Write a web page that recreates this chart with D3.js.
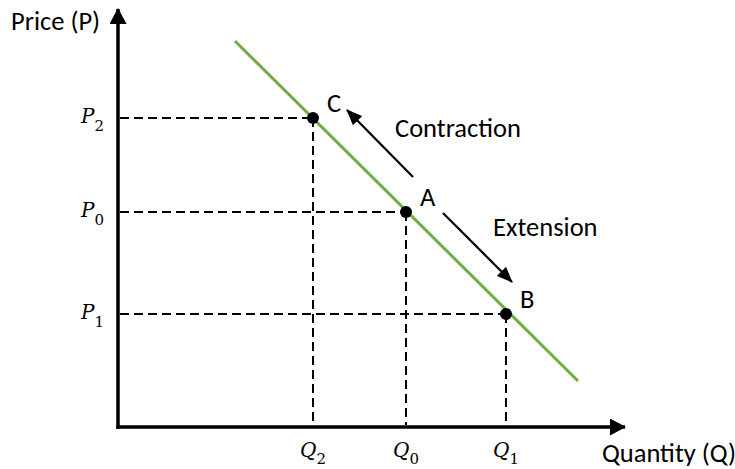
<!DOCTYPE html>
<html>
<head>
<meta charset="utf-8">
<script src="https://cdn.jsdelivr.net/npm/d3@7"></script>
<style>
  body { margin: 0; background: #fff; }
  text { font-family: Carlito, Lato, "Open Sans", sans-serif; fill: #000; }
  .math { font-family: "DejaVu Serif", serif; }
</style>
</head>
<body>
<script>
// Points on the demand curve
const pointNames = ["C", "A", "B"];
const quantities = [3.9, 5.76, 7.76];
const prices = [6.18, 4.3, 2.26];
const subscripts = ["2", "0", "1"];

// Demand curve end points
const demandQ = [2.34, 9.2];
const demandP = [7.72, 0.92];

// Movement arrows (from -> to) and their labels
const arrowNames = ["Contraction", "Extension"];
const arrowFromQ = [5.9, 6.5];
const arrowFromP = [5.0, 4.28];
const arrowToQ = [4.58, 7.88];
const arrowToP = [6.34, 2.9];
const arrowLabelQ = [5.54, 7.5];
const arrowLabelP = [5.8, 3.82];

// Axis extents
const qMax = 10.14;
const pMax = 8.36;

const w = 735;
const h = 469;
const fontSize = "26.5px";

const x = d3.scaleLinear().domain([0, 10]).range([118, 618]);
const y = d3.scaleLinear().domain([0, 8.3]).range([427, 12]);

const svg = d3.select("body")
  .append("svg")
  .attr("width", w)
  .attr("height", h);

const defs = svg.append("defs");
defs.append("marker")
  .attr("id", "axisHead")
  .attr("markerUnits", "userSpaceOnUse")
  .attr("viewBox", "0 0 16 17")
  .attr("refX", 15).attr("refY", 8.5)
  .attr("markerWidth", 16).attr("markerHeight", 17)
  .attr("orient", "auto")
  .append("path")
  .attr("d", "M0,0 L16,8.5 L0,17 Z")
  .attr("fill", "#000");

defs.append("marker")
  .attr("id", "moveHead")
  .attr("markerUnits", "userSpaceOnUse")
  .attr("viewBox", "0 0 16 13")
  .attr("refX", 15).attr("refY", 6.5)
  .attr("markerWidth", 16).attr("markerHeight", 13)
  .attr("orient", "auto")
  .append("path")
  .attr("d", "M0,0 L16,6.5 L0,13 Z")
  .attr("fill", "#000");

// Dashed guide lines
const guides = svg.append("g")
  .attr("stroke", "#000")
  .attr("stroke-width", 2)
  .attr("stroke-dasharray", "9,5")
  .attr("fill", "none");

quantities.forEach((q, i) => {
  guides.append("line")
    .attr("x1", x(0) + 2).attr("y1", y(prices[i]))
    .attr("x2", x(q)).attr("y2", y(prices[i]));
  guides.append("line")
    .attr("x1", x(q)).attr("y1", y(prices[i]))
    .attr("x2", x(q)).attr("y2", y(0) - 2);
});

// Axes
svg.append("line")
  .attr("x1", x(0)).attr("y1", y(0) + 1.75)
  .attr("x2", x(0)).attr("y2", y(pMax))
  .attr("stroke", "#000").attr("stroke-width", 3.5)
  .attr("marker-end", "url(#axisHead)");

svg.append("line")
  .attr("x1", x(0) - 1.75).attr("y1", y(0))
  .attr("x2", x(qMax)).attr("y2", y(0))
  .attr("stroke", "#000").attr("stroke-width", 3.5)
  .attr("marker-end", "url(#axisHead)");

// Demand curve
svg.append("line")
  .attr("x1", x(demandQ[0])).attr("y1", y(demandP[0]))
  .attr("x2", x(demandQ[1])).attr("y2", y(demandP[1]))
  .attr("stroke", "#70ad47").attr("stroke-width", 3);

// Movement arrows
arrowNames.forEach((name, i) => {
  svg.append("line")
    .attr("x1", x(arrowFromQ[i])).attr("y1", y(arrowFromP[i]))
    .attr("x2", x(arrowToQ[i])).attr("y2", y(arrowToP[i]))
    .attr("stroke", "#000").attr("stroke-width", 2.2)
    .attr("marker-end", "url(#moveHead)");

  svg.append("text")
    .attr("x", x(arrowLabelQ[i])).attr("y", y(arrowLabelP[i]))
    .style("font-size", fontSize)
    .text(name);
});

// Points and their labels
svg.selectAll("circle.pt")
  .data(quantities)
  .enter()
  .append("circle")
  .attr("class", "pt")
  .attr("cx", (d) => x(d))
  .attr("cy", (d, i) => y(prices[i]))
  .attr("r", 6)
  .attr("fill", "#000");

svg.selectAll("text.pt")
  .data(pointNames)
  .enter()
  .append("text")
  .attr("class", "pt")
  .attr("x", (d, i) => x(quantities[i]) + 14)
  .attr("y", (d, i) => y(prices[i]) - 6)
  .style("font-size", fontSize)
  .text((d) => d);

// Price labels on the y axis
const pLab = svg.selectAll("text.plab")
  .data(prices)
  .enter()
  .append("text")
  .attr("class", "plab math")
  .attr("text-anchor", "end")
  .attr("x", x(0) - 14)
  .attr("y", (d) => y(d) + 5);
pLab.append("tspan")
  .style("font-size", "20px").style("font-style", "italic")
  .text("P");
pLab.append("tspan")
  .attr("dy", 8)
  .style("font-size", "15px")
  .text((d, i) => subscripts[i]);

// Quantity labels on the x axis
const qLab = svg.selectAll("text.qlab")
  .data(quantities)
  .enter()
  .append("text")
  .attr("class", "qlab math")
  .attr("text-anchor", "middle")
  .attr("x", (d) => x(d))
  .attr("y", y(0) + 30);
qLab.append("tspan")
  .style("font-size", "20px").style("font-style", "italic")
  .text("Q");
qLab.append("tspan")
  .attr("dy", 7)
  .style("font-size", "15px")
  .text((d, i) => subscripts[i]);

// Axis titles
svg.append("text")
  .attr("x", 11).attr("y", 30)
  .style("font-size", fontSize)
  .text("Price (P)");

svg.append("text")
  .attr("x", 602).attr("y", 462)
  .style("font-size", fontSize)
  .text("Quantity (Q)");
</script>
</body>
</html>
